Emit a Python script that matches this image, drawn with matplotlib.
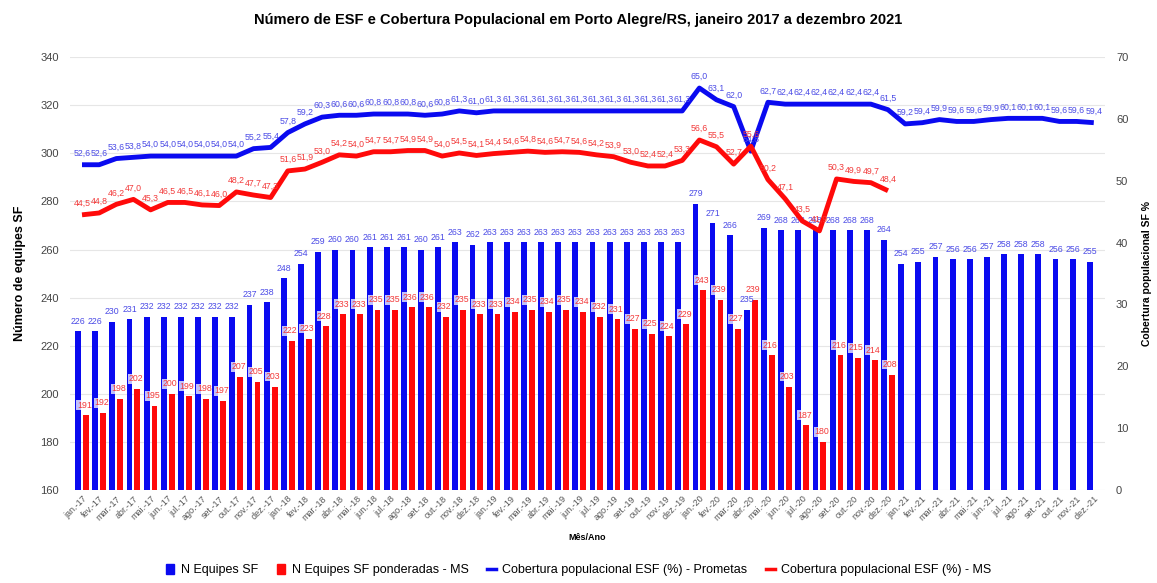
import matplotlib
matplotlib.use("Agg")
import matplotlib.pyplot as plt
from matplotlib.lines import Line2D
from matplotlib.patches import Patch
import numpy as np

plt.rcParams['font.family'] = ['Liberation Sans', 'DejaVu Sans']

meses = ["jan.", "fev.", "mar.", "abr.", "mai.", "jun.", "jul.", "ago.", "set.", "out.", "nov.", "dez."]
anos = ["17", "18", "19", "20", "21"]
categorias = [f"{m}-{a}" for a in anos for m in meses]

n_equipes = [226, 226, 230, 231, 232, 232, 232, 232, 232, 232, 237, 238,
             248, 254, 259, 260, 260, 261, 261, 261, 260, 261, 263, 262,
             263, 263, 263, 263, 263, 263, 263, 263, 263, 263, 263, 263,
             279, 271, 266, 235, 269, 268, 268, 268, 268, 268, 268, 264,
             254, 255, 257, 256, 256, 257, 258, 258, 258, 256, 256, 255]

n_ponderadas = [191, 192, 198, 202, 195, 200, 199, 198, 197, 207, 205, 203,
                222, 223, 228, 233, 233, 235, 235, 236, 236, 232, 235, 233,
                233, 234, 235, 234, 235, 234, 232, 231, 227, 225, 224, 229,
                243, 239, 227, 239, 216, 203, 187, 180, 216, 215, 214, 208]

cob_prometas = [52.6, 52.6, 53.6, 53.8, 54.0, 54.0, 54.0, 54.0, 54.0, 54.0, 55.2, 55.4,
                57.8, 59.2, 60.3, 60.6, 60.6, 60.8, 60.8, 60.8, 60.6, 60.8, 61.3, 61.0,
                61.3, 61.3, 61.3, 61.3, 61.3, 61.3, 61.3, 61.3, 61.3, 61.3, 61.3, 61.3,
                65.0, 63.1, 62.0, 54.8, 62.7, 62.4, 62.4, 62.4, 62.4, 62.4, 62.4, 61.5,
                59.2, 59.4, 59.9, 59.6, 59.6, 59.9, 60.1, 60.1, 60.1, 59.6, 59.6, 59.4]

cob_ms = [44.5, 44.8, 46.2, 47.0, 45.3, 46.5, 46.5, 46.1, 46.0, 48.2, 47.7, 47.3,
          51.6, 51.9, 53.0, 54.2, 54.0, 54.7, 54.7, 54.9, 54.9, 54.0, 54.5, 54.1,
          54.4, 54.6, 54.8, 54.6, 54.7, 54.6, 54.2, 53.9, 53.0, 52.4, 52.4, 53.3,
          56.6, 55.5, 52.7, 55.6, 50.2, 47.1, 43.5, 41.9, 50.3, 49.9, 49.7, 48.4]

BLUE = "#0a0af0"
RED = "#ff0a0a"
BLUE_TXT = "#4b4be6"
RED_TXT = "#f23a3a"

fig = plt.figure(figsize=(11.57, 5.83), dpi=100)
ax = fig.add_axes([0.0605, 0.1595, 0.8945, 0.7425])
ax2 = ax.twinx()

x = np.arange(len(categorias))
xr = np.arange(len(n_ponderadas))
bw = 0.34
off = 0.23

ax.bar(x - off, np.array(n_equipes) - 160, bottom=160, width=bw, color=BLUE, zorder=3)
ax.bar(xr + off, np.array(n_ponderadas) - 160, bottom=160, width=bw, color=RED, zorder=3)

for i, v in enumerate(n_equipes):
    ax.annotate(str(v), (i - off, v), xytext=(0, 4), textcoords="offset points",
                ha="center", va="bottom", fontsize=6.3, color=BLUE_TXT, zorder=6)
for i, v in enumerate(n_ponderadas):
    ax.annotate(str(v), (i + off - 0.1, v), xytext=(0, 4), textcoords="offset points",
                ha="center", va="bottom", fontsize=6.3, color=RED_TXT, zorder=6,
                bbox=dict(boxstyle="square,pad=0.05", fc="white", ec="none", alpha=0.75))

ax.set_ylim(160, 340)
ax.set_yticks(range(160, 341, 20))
ax.set_xlim(-0.7, 59.65)
ax.set_xticks(x)
ax.set_xticklabels(categorias, rotation=45, ha="right", rotation_mode="anchor",
                   fontsize=6.5, color="#555555")
ax.tick_params(axis="x", length=0, pad=3)
ax.tick_params(axis="y", length=0, labelsize=8, colors="#444444", pad=8)
ax.grid(axis="y", color="#e6e6e6", linewidth=0.8, zorder=0)
ax.set_axisbelow(True)
for s in ax.spines.values():
    s.set_visible(False)

ax2.plot(x, cob_prometas, color=BLUE, linewidth=3.5, zorder=4, solid_capstyle="butt")
ax2.plot(xr, cob_ms, color=RED, linewidth=3.5, zorder=4, solid_capstyle="butt")
for i, v in enumerate(cob_prometas):
    ax2.annotate(f"{v:.1f}".replace(".", ","), (i, v), xytext=(0, 5), textcoords="offset points",
                 ha="center", va="bottom", fontsize=6.3, color=BLUE_TXT, zorder=6)
for i, v in enumerate(cob_ms):
    ax2.annotate(f"{v:.1f}".replace(".", ","), (i, v), xytext=(0, 5), textcoords="offset points",
                 ha="center", va="bottom", fontsize=6.3, color=RED_TXT, zorder=6)
ax2.set_ylim(0, 70)
ax2.set_yticks(range(0, 71, 10))
ax2.tick_params(axis="y", length=0, labelsize=8, colors="#444444", pad=8)
for s in ax2.spines.values():
    s.set_visible(False)

ax.set_ylabel("Número de equipes SF", fontsize=9, fontweight="bold", labelpad=10)
ax2.set_ylabel("Cobertura populacional SF %", fontsize=7.5, fontweight="bold", labelpad=10)
ax.set_xlabel("Mês/Ano", fontsize=6.5, fontweight="bold", labelpad=8)

fig.suptitle("Número de ESF e Cobertura Populacional em Porto Alegre/RS, janeiro 2017 a dezembro 2021",
             fontsize=10.5, fontweight="bold", y=0.977)

handles = [Patch(color=BLUE), Patch(color=RED),
           Line2D([0], [0], color=BLUE, linewidth=2.5),
           Line2D([0], [0], color=RED, linewidth=2.5)]
labels = ["N Equipes SF", "N Equipes SF ponderadas - MS",
          "Cobertura populacional ESF (%) - Prometas", "Cobertura populacional ESF (%) - MS"]
fig.legend(handles, labels, loc="lower center", bbox_to_anchor=(0.5, -0.008), ncol=4,
           frameon=False, fontsize=9, handlelength=0.7, handleheight=0.9,
           handletextpad=0.5, columnspacing=1.5)

fig.savefig("out.png", dpi=100)
